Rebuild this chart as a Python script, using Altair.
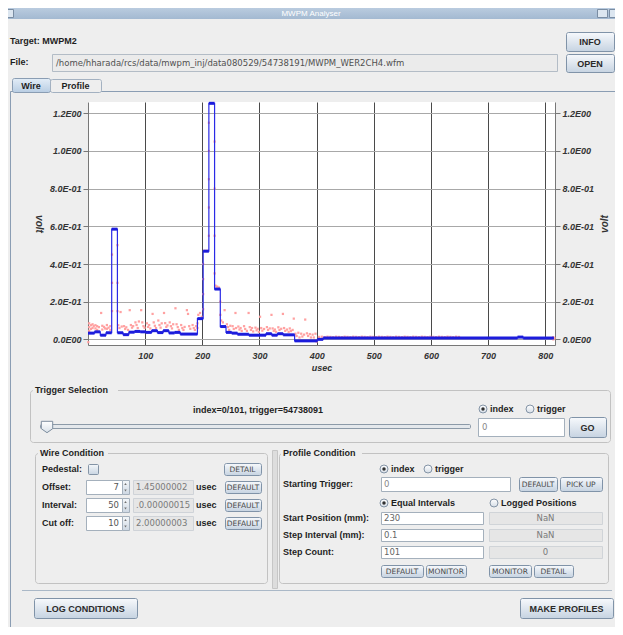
import altair as alt
import pandas as pd

# ---------------- data ----------------
# averaged waveform (blue staircase): segment start times (usec) and levels (volt)
step_t = [0, 11.45, 21.45, 31.45, 41.45, 51.45, 61.45, 71.45, 81.45, 91.45,
          101.45, 111.45, 121.45, 131.45, 141.45, 151.45, 161.45,
          191.45, 201.45, 211.45, 221.45, 231.45, 241.45, 251.45, 261.45,
          281.45, 311.45, 321.45, 331.45, 341.45, 361.45,
          401.45, 411.45, 751.45, 761.45, 815]
step_v = [0.033, 0.04, 0.022, 0.035, 0.585, 0.035, 0.025, 0.038, 0.042, 0.04,
          0.037, 0.046, 0.036, 0.046, 0.034, 0.037, 0.028,
          0.11, 0.468, 1.253, 0.267, 0.068, 0.037, 0.033, 0.027,
          0.022, 0.03, 0.022, 0.03, 0.024, -0.008,
          0.0, 0.007, 0.012, 0.007, 0.007]

# raw samples (pink dots)
pink_t = [0.5, 2, 2, 2, 5, 5, 8, 8, 10,
          13, 13, 16, 16, 19,
          23, 25, 25, 28, 30,
          33, 33, 36, 39, 39,
          42, 42, 42, 51.5, 51.5, 51.5,
          53, 55, 57, 59,
          63, 65, 67, 70,
          73, 75, 77, 79,
          83, 85, 87, 89,
          93, 95, 97, 99,
          103, 105, 107, 109,
          113, 115, 117, 119,
          123, 125, 127, 129,
          133, 135, 137, 139,
          143, 145, 147, 149,
          153, 155, 157, 159,
          163, 165, 167, 169,
          173, 175, 177, 179,
          183, 185, 187, 189,
          191.5, 191.5, 193, 196, 199,
          201.5, 201.5, 201.5, 201.5, 204, 208,
          211.5, 211.5, 211.5, 211.5, 211.5,
          221.5, 221.5, 221.5, 221.5, 223, 226, 229,
          231.5, 231.5, 233, 236, 239,
          243, 245, 247, 249,
          253, 255, 258, 259,
          263, 265, 267, 269,
          273, 275, 278, 281,
          283, 285, 287, 289,
          293, 295, 297, 299,
          301, 303, 305, 308,
          313, 315, 318, 321,
          323, 325, 327, 329,
          333, 335, 338, 341,
          343, 345, 348, 351,
          353, 355, 358, 360,
          363, 365, 368, 370,
          373, 375, 378, 380,
          383, 385, 388, 390,
          393, 395, 398, 400,
          404, 409, 414, 419, 424, 429, 434, 439, 444, 449,
          454, 459, 464, 469, 474, 479, 484, 489, 494, 499,
          504, 509, 514, 519, 524, 529, 534, 539, 544, 549,
          554, 559, 564, 569, 574, 579, 584, 589, 594, 599,
          604, 609, 614, 619, 624, 629, 634, 639, 644, 649,
          814, 814, 816]
pink_v = [-0.015, 0.085, 0.065, 0.045, 0.075, 0.055, 0.08, 0.06, 0.07,
          0.075, 0.058, 0.07, 0.05, 0.065,
          0.14, 0.072, 0.052, 0.066, 0.058,
          0.076, 0.056, 0.062, 0.07, 0.05,
          0.15, 0.3, 0.45, 0.5, 0.3, 0.15,
          0.075, 0.06, 0.145, 0.068,
          0.07, 0.055, 0.064, 0.05,
          0.155, 0.076, 0.062, 0.07,
          0.09, 0.076, 0.06, 0.095,
          0.155, 0.09, 0.07, 0.062,
          0.085, 0.066, 0.076, 0.058,
          0.135, 0.09, 0.072, 0.06,
          0.1, 0.076, 0.062, 0.085,
          0.14, 0.086, 0.066, 0.074,
          0.09, 0.07, 0.058, 0.08,
          0.165, 0.08, 0.065, 0.05,
          0.076, 0.06, 0.05, 0.066,
          0.155, 0.135, 0.07, 0.056,
          0.076, 0.06, 0.05, 0.07,
          0.06, 0.085, 0.13, 0.14, 0.12,
          0.16, 0.24, 0.32, 0.4, 0.47, 0.47,
          0.55, 0.7, 0.85, 1.0, 1.15,
          1.05, 0.8, 0.55, 0.35, 0.285, 0.28, 0.275,
          0.2, 0.13, 0.1, 0.09, 0.155,
          0.08, 0.065, 0.05, 0.072,
          0.07, 0.055, 0.14, 0.06,
          0.068, 0.052, 0.06, 0.045,
          0.07, 0.055, 0.045, 0.14,
          0.065, 0.05, 0.06, 0.042,
          0.062, 0.048, 0.056, 0.04,
          0.12, 0.06, 0.046, 0.055,
          0.065, 0.05, 0.058, 0.13,
          0.058, 0.045, 0.052, 0.04,
          0.064, 0.05, 0.056, 0.135,
          0.06, 0.045, 0.052, 0.04,
          0.058, 0.044, 0.05, 0.11,
          0.03, 0.018, 0.035, 0.01,
          0.03, 0.015, 0.025, 0.105,
          0.032, 0.018, 0.028, 0.01,
          0.025, 0.01, 0.03, -0.012,
          0.013, 0.014, 0.012, 0.014, 0.013, 0.012, 0.014, 0.013, 0.012, 0.014,
          0.013, 0.012, 0.014, 0.013, 0.012, 0.014, 0.013, 0.012, 0.014, 0.013,
          0.012, 0.014, 0.013, 0.012, 0.014, 0.013, 0.012, 0.014, 0.013, 0.012,
          0.014, 0.013, 0.012, 0.014, 0.013, 0.012, 0.014, 0.013, 0.012, 0.014,
          0.013, 0.012, 0.014, 0.013, 0.012, 0.014, 0.013, 0.012, 0.014, 0.013,
          0.0, 0.012, 0.006]

x_ticks = [100, 200, 300, 400, 500, 600, 700, 800]
y_ticks = [0.0, 0.2, 0.4, 0.6, 0.8, 1.0, 1.2]
y_tick_labels = ["0.0E00", "2.0E-01", "4.0E-01", "6.0E-01", "8.0E-01", "1.0E00", "1.2E00"]
x_domain = [0, 817]
y_domain = [-0.03, 1.26]

file_path = "/home/hharada/rcs/data/mwpm_inj/data080529/54738191/MWPM_WER2CH4.wfm"

# ---------------- plot ----------------
OX, OY = 88, 102          # plot origin in the 623x635 picture
W, H = 467, 243

steps = pd.DataFrame({"t": step_t, "v": step_v})
segs = pd.DataFrame({"t": step_t[:-1], "t2": step_t[1:], "v": step_v[:-1]})
pink = pd.DataFrame({"t": pink_t, "v": pink_v})

AX_FONT = "Liberation Sans"
label_expr = "[" + ",".join("'%s'" % s for s in y_tick_labels) + "][round(datum.value * 5)]"

xs = alt.Scale(domain=x_domain, nice=False, zero=False)
ys = alt.Scale(domain=y_domain, nice=False, zero=False)

common = dict(labelFont=AX_FONT, labelFontSize=9, labelFontWeight="bold", labelFontStyle="italic",
              labelColor="#333", titleFont=AX_FONT, titleFontWeight="bold",
              titleFontStyle="italic", titleColor="#333", domainColor="#777")
x_axis = alt.Axis(values=x_ticks, format="d", title="usec", grid=True, gridColor="#4a4a4a",
                  gridOpacity=1, gridWidth=1, tickSize=0, labelPadding=6, titleFontSize=9,
                  titlePadding=3, labelFlush=False, **common)
yl_axis = alt.Axis(values=y_ticks, labelExpr=label_expr, title="volt", titleAngle=90,
                   titleBaseline="top", grid=True, gridColor="#a8a8a8", gridOpacity=1,
                   tickSize=5, tickColor="#777", labelPadding=2, titleFontSize=10,
                   titlePadding=6, **common)
yr_axis = alt.Axis(orient="right", values=y_ticks, labelExpr=label_expr, title="volt", titleAngle=270,
                   titleBaseline="top", grid=False, tickSize=5, tickColor="#777", labelPadding=2,
                   titleFontSize=10, titlePadding=6, **common)

# every layer carries the same x axis so that the shared axis merges cleanly
X = alt.X("t:Q", scale=xs, axis=x_axis)

axes_left = alt.Chart(steps).mark_point(opacity=0).encode(
    x=X, y=alt.Y("v:Q", scale=ys, axis=yl_axis))
dots = alt.Chart(pink).mark_square(size=5, color="#ff9c9c", opacity=0.95).encode(
    x=X, y=alt.Y("v:Q", scale=ys, axis=None))
thin = alt.Chart(steps).mark_line(interpolate="step-after", color="#2a2ae6", strokeWidth=1.2).encode(
    x=X, y=alt.Y("v:Q", scale=ys, axis=None))
thick = alt.Chart(segs).mark_rule(color="#1c1cdc", strokeWidth=3).encode(
    x=X, x2="t2:Q", y=alt.Y("v:Q", scale=ys, axis=None))
axes_right = alt.Chart(steps).mark_point(opacity=0).encode(
    x=X, y=alt.Y("v:Q", scale=ys, axis=yr_axis))

# ---------------- window decoration (GUI widgets) ----------------
GUI = "Liberation Sans"
FIELD = "DejaVu Sans"
one = pd.DataFrame({"k": [0]})


def P(x):
    return x - OX


def Q(y):
    return y - OY


def grad(c0, c1):
    return alt.Gradient(gradient="linear", x1=0, x2=0, y1=0, y2=1,
                        stops=[alt.GradientStop(color=c0, offset=0), alt.GradientStop(color=c1, offset=1)])


def box(x0, y0, x1, y1, fill=None, stroke=None, r=0):
    kw = {}
    if fill is None:
        kw["fill"] = "white"
        kw["fillOpacity"] = 0
    else:
        kw["fill"] = fill
    d = 0
    if stroke is not None:
        kw["stroke"] = stroke
        kw["strokeWidth"] = 1
        d = 0.5
    if r:
        kw["cornerRadius"] = r
    return alt.Chart(one).mark_rect(**kw).encode(
        x=alt.value(P(x0) + d), x2=alt.value(P(x1) + d), y=alt.value(Q(y0) + d), y2=alt.value(Q(y1) + d))


def text(s, x, y, size=9, bold=True, color="#1e1e1e", align="left", font=GUI):
    return alt.Chart(one).mark_text(text=s, align=align, baseline="middle", fontSize=size,
                                    fontWeight="bold" if bold else "normal", color=color, font=font).encode(
        x=alt.value(P(x)), y=alt.value(Q(y)))


def point(x, y, shape, size, fill, stroke=None):
    kw = {"shape": shape, "size": size, "fill": fill, "fillOpacity": 1, "opacity": 1}
    if stroke is not None:
        kw["stroke"] = stroke
        kw["strokeWidth"] = 1
    else:
        kw["strokeWidth"] = 0
    return alt.Chart(one).mark_point(**kw).encode(x=alt.value(P(x)), y=alt.value(Q(y)))


BTN = grad("#f7f9fc", "#c6d3e1")
BTN_STROKE = "#8093a8"


def button(x0, y0, x1, y1, s, small=False):
    out = [box(x0, y0, x1, y1, fill=BTN, stroke=BTN_STROKE, r=2)]
    if small:
        out.append(text(s, (x0 + x1) / 2, (y0 + y1) / 2 + 0.5, size=7.5, bold=False, color="#4a4a4a",
                        align="center", font=FIELD))
    else:
        out.append(text(s, (x0 + x1) / 2, (y0 + y1) / 2 + 0.5, size=9, align="center", color="#2a2a2a"))
    return out


def radio(x, y, s, selected=False):
    out = [point(x, y, "circle", 64, grad("#ffffff", "#d5dde6"), "#8494a6")]
    if selected:
        out.append(point(x, y, "circle", 12, "#303030"))
    out.append(text(s, x + 7, y, size=9))
    return out


deco = []
# title bar (only its lower part is inside the page)
deco += [box(0, 0, 623, 19, fill=grad("#cad9e9", "#a3b9d1")),
         text("MWPM Analyser", 311, 13.5, size=8, bold=False, color="#ffffff", align="center"),
         box(3, 9, 13, 17, fill="#dce6f0", stroke="#7a8da3"),
         box(597, 9, 607, 17, fill="#dce6f0", stroke="#7a8da3"),
         box(609, 9, 619, 17, fill="#dce6f0", stroke="#7a8da3")]
# header
deco += [text("Target: MWPM2", 10, 41)]
deco += button(566, 32, 614, 51, "INFO")
deco += [text("File:", 10, 62),
         box(52, 54, 557, 71, fill="#ebebeb", stroke="#b3bcc6"),
         text(file_path, 56, 62.5, size=8.5, bold=False, color="#505050", font=FIELD)]
deco += button(566, 54, 614, 72, "OPEN")
# tabs
deco += [box(10, 91, 616, 628, stroke="#8a9db3"),
         box(12, 78, 50, 92, fill=grad("#e3edf7", "#b8cde3"), stroke="#8a9db3", r=2),
         text("Wire", 31, 85.5, align="center"),
         box(50, 79, 101, 92, fill="#eeeeee", stroke="#a3b1c1", r=2),
         text("Profile", 75.5, 85.5, align="center")]
# trigger selection
deco += [box(30, 390, 610, 442, stroke="#c2c2c2", r=3),
         box(33, 385, 118, 395, fill="#eeeeee"),
         text("Trigger Selection", 35, 390),
         text("index=0/101, trigger=54738091", 258, 410, align="center")]
deco += radio(483, 409, "index", True)
deco += radio(530, 409, "trigger")
deco += [box(40, 424, 470, 428, fill="#e4e8ec", stroke="#8c9aa8", r=1),
         point(47, 427, "M -1 -1 L 1 -1 L 1 0.3 L 0 1 L -1 0.3 Z", 130, grad("#ffffff", "#d8e0e8"), "#7d8d9e"),
         box(478, 418, 564, 436, fill="white", stroke="#a4b0bc"),
         text("0", 482, 427, bold=False, color="#888888", font=FIELD, size=8.5)]
deco += button(569, 417, 606, 437, "GO")
# wire condition
deco += [box(35, 453, 267, 583, stroke="#c2c2c2", r=3),
         box(38, 448, 108, 458, fill="#eeeeee"),
         text("Wire Condition", 40, 453),
         text("Pedestal:", 42, 469),
         box(88, 464, 98, 474, fill=grad("#f4f7fa", "#c9d5e2"), stroke="#8494a6", r=1)]
deco += button(224, 463, 261, 475, "DETAIL", small=True)
for name, yy, v1, v2 in [("Offset:", 487, "7", "1.45000002"),
                         ("Interval:", 505, "50", ".0.00000015"),
                         ("Cut off:", 523, "10", "2.00000003")]:
    deco += [text(name, 42, yy),
             box(86, yy - 7, 122, yy + 7, fill="white", stroke="#a4b0bc"),
             text(v1, 119, yy, bold=False, color="#555555", align="right", font=FIELD, size=8.5),
             box(122, yy - 7, 129, yy + 7, fill=grad("#f4f7fa", "#cdd7e2"), stroke="#a4b0bc"),
             point(125.5, yy - 3, "triangle-up", 6, "#707070"),
             point(125.5, yy + 3.5, "triangle-down", 6, "#707070"),
             box(133, yy - 7, 193, yy + 7, fill="#e6e6e6", stroke="#cfd3d8"),
             text(v2, 136, yy, bold=False, color="#7a7a7a", font=FIELD, size=8.5),
             text("usec", 196, yy)]
    deco += button(225, yy - 6, 261, yy + 6, "DEFAULT", small=True)
# divider
deco += [box(272, 450, 277, 588, fill="#dddddd", stroke="#c6c6c6")]
# profile condition
deco += [box(279, 453, 608, 583, stroke="#c2c2c2", r=3),
         box(281, 448, 362, 458, fill="#eeeeee"),
         text("Profile Condition", 283, 453)]
deco += radio(384, 469, "index", True)
deco += radio(428, 469, "trigger")
deco += [text("Starting Trigger:", 283, 484),
         box(381, 477, 510, 491, fill="white", stroke="#a4b0bc"),
         text("0", 384, 484, bold=False, color="#888888", font=FIELD, size=8.5)]
deco += button(519, 477, 557, 491, "DEFAULT", small=True)
deco += button(560, 477, 602, 491, "PICK UP", small=True)
deco += radio(384, 503, "Equal Intervals", True)
deco += radio(494, 503, "Logged Positions")
for name, yy, v1, v2 in [("Start Position (mm):", 518, "230", "NaN"),
                         ("Step Interval (mm):", 535, "0.1", "NaN"),
                         ("Step Count:", 552, "101", "0")]:
    deco += [text(name, 283, yy),
             box(381, yy - 6, 483, yy + 6, fill="white", stroke="#a4b0bc"),
             text(v1, 384, yy, bold=False, color="#666666", font=FIELD, size=8.5),
             box(489, yy - 6, 602, yy + 6, fill="#e6e6e6", stroke="#d0d4d8"),
             text(v2, 545.5, yy, bold=False, color="#7a7a7a", align="center", font=FIELD, size=8.5)]
deco += button(381, 565, 423, 577, "DEFAULT", small=True)
deco += button(426, 565, 466, 577, "MONITOR", small=True)
deco += button(489, 565, 531, 577, "MONITOR", small=True)
deco += button(534, 565, 573, 577, "DETAIL", small=True)
# bottom
deco += [box(22, 590, 612, 591, fill="#aab8c7")]
deco += button(34, 598, 137, 618, "LOG CONDITIONS")
deco += button(520, 598, 613, 618, "MAKE PROFILES")

chart = alt.layer(*deco, axes_left, dots, thin, thick, axes_right).resolve_scale(y="independent").properties(
    width=W, height=H,
    autosize=alt.AutoSizeParams(type="none"),
    padding={"left": OX - 8, "top": OY - 8, "right": 615 - OX - W, "bottom": 627 - OY - H},
    background="#eeeeee",
).configure_view(fill="white", strokeWidth=0)

chart.save("out.html", embed_options={"renderer": "svg", "actions": False})
